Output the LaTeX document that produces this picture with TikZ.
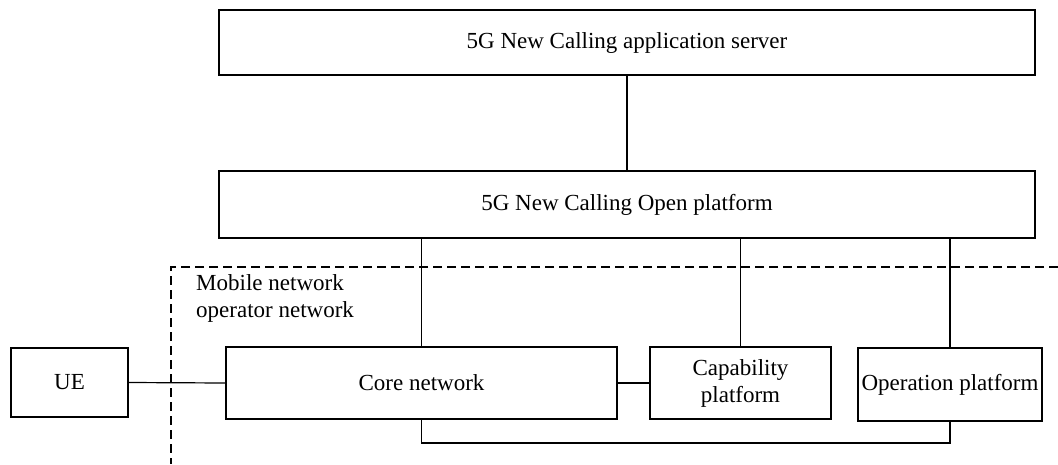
\documentclass[tikz,border=0pt]{standalone}
\usepackage{fontspec}
\setmainfont{Liberation Serif}
\begin{document}
\begin{tikzpicture}[x=1pt,y=-1pt,
  box/.style={draw, line width=1.2pt, inner sep=0pt, align=center,
    font=\fontsize{23}{27}\selectfont},
  conn/.style={line width=1.2pt},
  dashbox/.style={line width=1.1pt, dash pattern=on 9pt off 5pt}]
\useasboundingbox (0,0) rectangle (1058,464);
\node[box, minimum width=816pt, minimum height=65pt] (app) at (627,42.5) {5G New Calling application server};
\node[box, minimum width=816pt, minimum height=67pt] (open) at (627,204.5) {5G New Calling Open platform};
\node[box, minimum width=117pt, minimum height=69pt] (ue) at (69.5,382.5) {UE};
\node[box, minimum width=391pt, minimum height=72pt] (core) at (421.5,383) {Core network};
\node[box, minimum width=181pt, minimum height=72pt] (cap) at (740.5,383) {Capability\\platform};
\node[box, minimum width=184pt, minimum height=73pt] (op) at (950,384.5) {Operation platform};
\coordinate (dtr) at (1058,267);
\coordinate (dtl) at (171,267);
\coordinate (dbl) at (171,464);
\draw[dashbox] (dtr) -- (dtl) -- (dbl);
\node[anchor=west, align=left, inner sep=0pt, font=\fontsize{23}{27}\selectfont] (mno) at (196,298) {Mobile network\\operator network};
\coordinate (bot) at (700,443);
\draw[conn] (app.south) -- (open.north);
\draw[conn] (open.south -| core.north) -- (core.north);
\draw[conn] (open.south -| cap.north) -- (cap.north);
\draw[conn] (open.south -| op.north) -- (op.north);
\draw[conn] (ue.east) -- (core.west);
\draw[conn] (core.east) -- (cap.west);
\draw[conn] (core.south) |- (bot) -| (op.south);
\end{tikzpicture}
\end{document}
